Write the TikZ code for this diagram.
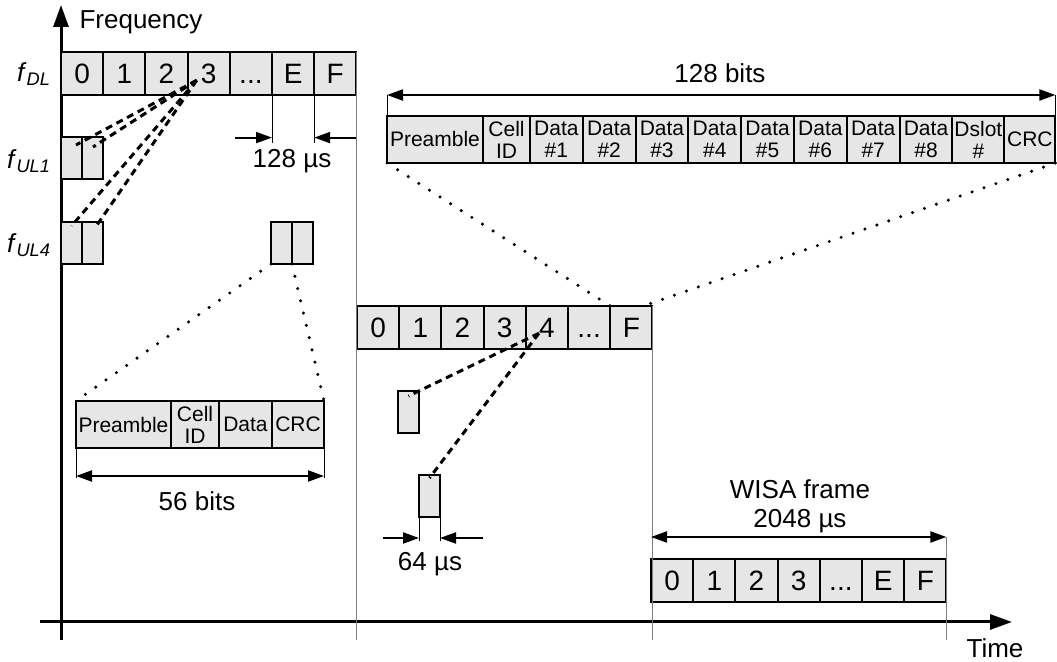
\documentclass[tikz,border=0pt]{standalone}
\usepackage{fontspec}
\setmainfont{Liberation Sans}
\usetikzlibrary{arrows.meta, positioning, calc}
\definecolor{cellgray}{RGB}{230,230,230}
\definecolor{guidegray}{RGB}{125,125,125}
\newcommand\tdots{...}

\begin{document}
\begin{tikzpicture}[x=0.5pt, y=-0.5pt, >={Triangle[length=8pt, width=5.5pt]},
  every node/.style={font=\fontsize{13}{15}\selectfont},
  cell/.style={draw, line width=1pt, fill=cellgray, minimum width=21.1pt, minimum height=21.3pt, inner sep=0pt, outer sep=0pt, text height=10pt, text depth=0pt, font=\fontsize{14}{16}\selectfont},
  field/.style={draw, line width=1pt, fill=cellgray, minimum height=23.5pt, inner sep=0pt, outer sep=0pt, align=center, font=\fontsize{10.5}{11}\selectfont},
  slot/.style={draw, line width=1pt, fill=cellgray, minimum width=10.5pt, minimum height=21pt, inner sep=0pt, outer sep=0pt},
  axis/.style={line width=1.5pt, -{Triangle[length=11pt, width=7.5pt]}},
  dim/.style={line width=1pt, ->},
  dimboth/.style={line width=1pt, <->},
  guide/.style={line width=0.5pt},
  gridline/.style={line width=0.6pt, guidegray},
  map/.style={line width=1.5pt, dash pattern=on 3.5pt off 2.5pt},
  zoomline/.style={line width=1.7pt, line cap=round, dash pattern=on 0pt off 6.3pt}]
	\useasboundingbox (0,0) rectangle (1057,662);

	% axes
	\coordinate (ybot) at (61,640);
	\coordinate (ytop) at (61,5);
	\coordinate (xleft) at (40,622);
	\coordinate (xright) at (1012,622);
	\draw[axis] (ybot) -- (ytop);
	\draw[axis] (xleft) -- (xright);
	\node (freq) at (141,22) {Frequency};
	\node (time) at (995,648) {Time};

	% frequency labels
	\node[anchor=east] (fdl) at (58,74) {\textit{f}\textsubscript{\textit{DL}}};
	\node[anchor=east] (ful1) at (58,161) {\textit{f}\textsubscript{\textit{UL1}}};
	\node[anchor=east] (ful4) at (58,245) {\textit{f}\textsubscript{\textit{UL4}}};

	% frames
	\foreach \lab [count=\i] in {0,1,2,3,\tdots,E,F}
		\node[cell, anchor=north west] (dl\i) at ({61+42.2*(\i-1)},52) {\lab};
	\foreach \lab [count=\i] in {0,1,2,3,4,\tdots,F}
		\node[cell, anchor=north west] (mid\i) at ({357+42.2*(\i-1)},306) {\lab};
	\foreach \lab [count=\i] in {0,1,2,3,\tdots,E,F}
		\node[cell, anchor=north west] (wf\i) at ({651+42.2*(\i-1)},559) {\lab};

	% uplink slots
	\node[slot, anchor=north west] (ul1a) at (61,137) {};
	\node[slot, right=0pt of ul1a] (ul1b) {};
	\node[slot, anchor=north west] (ul4a) at (61,222) {};
	\node[slot, right=0pt of ul4a] (ul4b) {};
	\node[slot, anchor=north west] (upa) at (271,222) {};
	\node[slot, right=0pt of upa] (upb) {};
	\node[slot, anchor=north west] (sl1) at (398,391) {};
	\node[slot, anchor=north west] (sl2) at (419,475) {};

	% downlink packet
	\node[field, minimum width=48pt, anchor=north west] (pk1) at (387,116) {Preamble};
	\foreach \lab/\w [count=\i from 2, remember=\i as \j (initially 1)] in
		{Cell\\ID/23.5pt, Data\\\#1/26.4pt, Data\\\#2/26.4pt, Data\\\#3/26.4pt, Data\\\#4/26.4pt,
		 Data\\\#5/26.4pt, Data\\\#6/26.4pt, Data\\\#7/26.4pt, Data\\\#8/26.4pt, Dslot\\\#/26pt, CRC/25.5pt}
		\node[field, minimum width=\w, right=0pt of pk\j] (pk\i) {\lab};

	% uplink packet
	\node[field, minimum width=47.5pt, anchor=north west] (pb1) at (76,401) {Preamble};
	\node[field, minimum width=24pt, right=0pt of pb1] (pb2) {Cell\\ID};
	\node[field, minimum width=26.5pt, right=0pt of pb2] (pb3) {Data};
	\node[field, minimum width=26pt, right=0pt of pb3] (pb4) {CRC};

	% frame boundaries
	\draw[gridline] (dl7.north east) -- (dl7.north east |- ybot);
	\draw[gridline] (mid7.north east) -- (mid7.north east |- ybot);
	\coordinate (wl) at ($(wf1.north west)+(0,-22)$);
	\coordinate (wr) at ($(wf7.north east)+(0,-22)$);
	\draw[gridline] (wr) -- (wr |- ybot);

	% 128 us
	\coordinate (e1) at ($(dl6.south west)+(0,43)$);
	\coordinate (e2) at ($(dl7.south west)+(0,43)$);
	\draw[guide] (dl6.south west) -- ($(e1)+(0,5)$);
	\draw[guide] (dl7.south west) -- ($(e2)+(0,5)$);
	\draw[dim] ($(e1)+(-37,0)$) -- (e1);
	\draw[dim] (e2 -| dl7.south east) -- (e2);
	\node (t128) at (292,161) {128 µs};

	% 64 us
	\coordinate (s1) at ($(sl2.south west)+(0,21)$);
	\coordinate (s2) at ($(sl2.south east)+(0,21)$);
	\draw[guide] (sl2.south west) -- ($(s1)+(0,3)$);
	\draw[guide] (sl2.south east) -- ($(s2)+(0,3)$);
	\draw[dim] ($(s1)+(-36,0)$) -- (s1);
	\draw[dim] ($(s2)+(43,0)$) -- (s2);
	\node (t64) at (430,564) {64 µs};

	% packet lengths
	\coordinate (b1) at ($(pk1.north west)+(0,-21)$);
	\coordinate (b2) at ($(pk12.north east)+(0,-21)$);
	\draw[guide] (pk1.north west) -- (b1);
	\draw[guide] (pk12.north east) -- (b2);
	\draw[dimboth] (b1) -- (b2);
	\node (t128b) at (720,73) {128 bits};
	\coordinate (c1) at ($(pb1.south west)+(0,28)$);
	\coordinate (c2) at ($(pb4.south east)+(0,28)$);
	\draw[guide] (pb1.south west) -- ($(c1)+(0,2)$);
	\draw[guide] (pb4.south east) -- ($(c2)+(0,2)$);
	\draw[dimboth] (c1) -- (c2);
	\node (t56) at (197,501) {56 bits};

	% frame length
	\draw[dimboth] (wl) -- (wr);
	\node[align=center, font=\fontsize{13}{14.5}\selectfont] (twisa) at (800,506) {WISA frame\\2048 µs};

	% slot mapping
	\coordinate (src3) at ($(dl4.center)+(-12,7)$);
	\draw[map] (src3) -- ($(ul1a.north)+(4.5,8)$);
	\draw[map] (src3) -- ($(ul1b.north)+(0.5,10)$);
	\draw[map] (src3) -- ($(ul4a.north)+(0,4)$);
	\draw[map] (src3) -- ($(ul4b.north)+(4.5,3)$);
	\coordinate (src4) at ($(mid5.center)+(-8,6)$);
	\draw[map] (src4) -- ($(sl1.north)+(0,5)$);
	\draw[map] (src4) -- ($(sl2.north)+(0,3)$);

	% zoom lines
	\draw[zoomline] (pk1.south west) -- (mid7.north west);
	\draw[zoomline] (pk12.south east) -- ($(mid7.north east)+(-9,0)$);
	\draw[zoomline] (upa.south west) -- (pb1.north west);
	\draw[zoomline] (upa.south east) -- (pb4.north east);
\end{tikzpicture}
\end{document}
